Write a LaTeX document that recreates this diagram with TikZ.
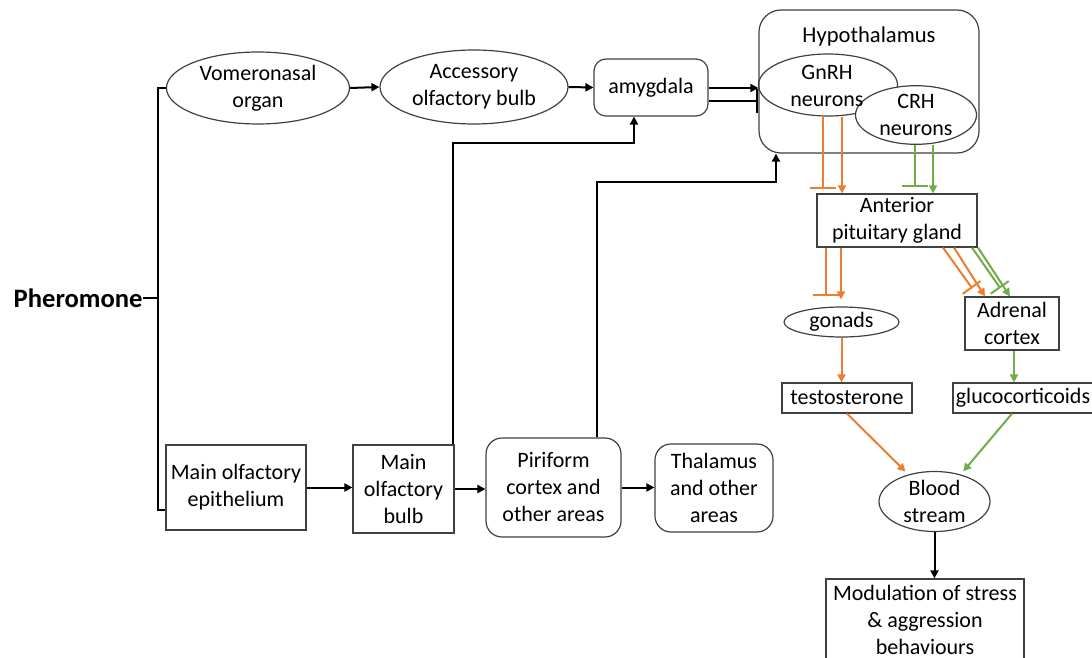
\documentclass[tikz,border=0pt]{standalone}
\usepackage{fontspec}
\setmainfont{Carlito}
\usetikzlibrary{shapes.geometric,arrows.meta}
\definecolor{orng}{HTML}{ED7D31}
\definecolor{grn}{HTML}{70AD47}
\definecolor{bord}{HTML}{404040}
\begin{document}
\begin{tikzpicture}[x=0.5pt,y=-0.5pt,
  font=\fontsize{11}{13.5}\selectfont,
  box/.style={draw=bord,line width=0.6pt,rectangle,align=center,inner sep=0pt},
  rbox/.style={box,rounded corners=6pt},
  ell/.style={draw=bord,line width=0.6pt,ellipse,align=center,inner sep=0pt},
  conn/.style={line width=1pt},
  arr/.style={conn,-{Triangle[length=4pt,width=4pt]}},
  inh/.style={conn,-{Bar[width=13pt]}},
  oarr/.style={arr,draw=orng},
  oinh/.style={inh,draw=orng},
  garr/.style={arr,draw=grn},
  ginh/.style={inh,draw=grn}]
\clip (0,0) rectangle (1092,658);
% nodes
\node[ell,minimum width=91.5pt,minimum height=36pt] (vno) at (258,88) {Vomeronasal\\organ};
\node[ell,minimum width=94pt,minimum height=37pt] (aob) at (474,87) {Accessory\\olfactory bulb};
\node[rbox,minimum width=57pt,minimum height=28.5pt] (amy) at (651,87.5) {amygdala};
\node[box,rounded corners=11pt,minimum width=110pt,minimum height=71.5pt] (hyp) at (869,81.5) {};
\node[font=\fontsize{11.3}{13.5}\selectfont] (hyplab) at (869,36) {Hypothalamus};
\node[ell,minimum width=69.5pt,minimum height=31pt] (gnrh) at (828,85) {};
\node[ell,fill=white,minimum width=60.5pt,minimum height=26pt] (crh) at (916,115) {CRH\\neurons};
\node[align=center,inner sep=0pt] (gnrhlab) at (827,86) {GnRH\\neurons};
\node[box,minimum width=80pt,minimum height=26.5pt] (ant) at (897,220.5) {Anterior\\pituitary gland};
\node[ell,minimum width=57.5pt,minimum height=15pt] (gon) at (841.5,322) {gonads};
\node[box,minimum width=47pt,minimum height=26.5pt] (adr) at (1012,323.5) {Adrenal\\cortex};
\node[box,minimum width=65pt,minimum height=15pt] (tes) at (847,398) {testosterone};
\node[box,minimum width=70pt,minimum height=15pt] (glu) at (1023,398) {glucocorticoids};
\node[ell,minimum width=55.5pt,minimum height=25.5pt] (blood) at (934.5,501.5) {Blood\\stream};
\node[box,minimum width=99pt,minimum height=41pt] (mod) at (925,620) {Modulation of stress\\\& aggression\\behaviours};
\node[box,minimum width=70pt,minimum height=42.5pt] (moe) at (236,487.5) {Main olfactory\\epithelium};
\node[box,minimum width=50.5pt,minimum height=44pt] (mob) at (403.5,489) {Main\\olfactory\\bulb};
\node[rbox,rounded corners=8pt,minimum width=67.5pt,minimum height=49.5pt] (pir) at (553.5,487.5) {Piriform\\cortex and\\other areas};
\node[rbox,rounded corners=8pt,minimum width=59pt,minimum height=44pt] (tha) at (714,488) {Thalamus\\and other\\areas};
\node[font=\bfseries\fontsize{13.3}{16}\selectfont,anchor=east,inner sep=0pt] (pher) at (143,298) {Pheromone};
% bracket
\coordinate (bt) at (158,88);
\coordinate (bb) at (158,510);
\draw[conn] (vno.west) -- (bt) -- (bb) -- (bb -| moe.west);
\draw[conn] (pher.east) -- (bt |- pher.east);
% black connectors
\draw[arr] (vno.east) -- (aob.west);
\draw[arr] (aob.east) -- (amy.west);
\draw[arr,line width=1.3pt] (amy.east |- 0,88) -- (hyp.west |- 0,88);
\draw[inh,line width=1.3pt,-{Bar[width=12pt]}] (amy.east |- 0,101) -- (hyp.west |- 0,101);
\draw[arr] ([xshift=-1pt]mob.north east) |- (634,143) -- (amy.south -| 634,0);
\draw[arr] (pir.north -| 597,0) |- (776,182) -- (hyp.south -| 776,0);
\draw[arr] (moe.east) -- (mob.west |- moe.east);
\draw[arr] (mob.east) -- (pir.west |- mob.east);
\draw[arr] (pir.east) -- (tha.west |- pir.east);
\draw[arr] (blood.south) -- (mod.north -| blood.south);
% hormonal axis
\draw[oinh,shorten >=2pt] (gnrh.south -| 823,0) -- (ant.north -| 823,0);
\draw[oarr] (gnrh.south -| 842,0) -- (ant.north -| 842,0);
\draw[ginh,shorten >=3pt] (crh.south -| 915,0) -- (ant.north -| 915,0);
\draw[garr] (crh.south -| 933,0) -- (ant.north -| 933,0);
\draw[oinh,shorten >=5pt] (ant.south -| 826,0) -- (gon.north -| 826,0);
\draw[oarr,shorten >=3.5pt] (ant.south -| 841,0) -- (gon.north -| 841,0);
\draw[oinh,-{Bar[width=11pt]},shorten >=5pt] (ant.south -| 943,0) -- (adr.north -| 978,0);
\draw[oarr] (ant.south -| 954,0) -- (adr.north -| 985,0);
\draw[ginh,-{Bar[width=11pt]},shorten >=5pt] (ant.south -| 972,0) -- (adr.north -| 1006,0);
\draw[garr] (ant.south -| 978,0) -- (adr.north -| 1010,0);
\draw[oarr] (gon.south) -- (tes.north -| gon.south);
\draw[garr] (adr.south -| 1014,0) -- (glu.north -| 1014,0);
\draw[oarr,shorten >=2pt] (tes.south) -- (blood.134);
\draw[garr,shorten >=2pt] (glu.south -| 1012,0) -- (blood.46);
\end{tikzpicture}
\end{document}
